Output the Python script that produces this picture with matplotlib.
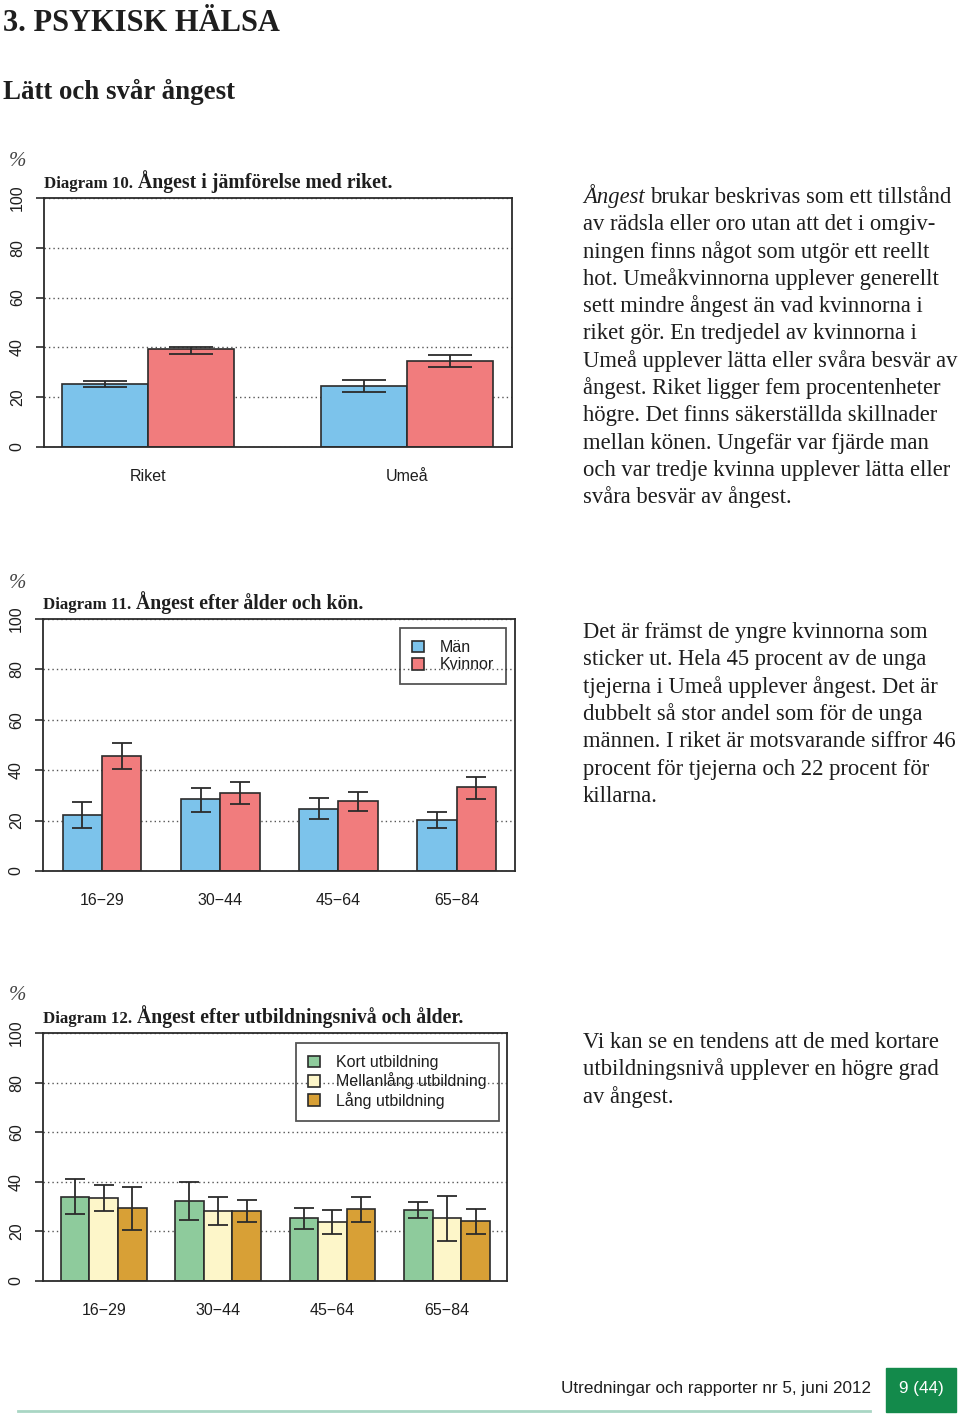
import matplotlib
matplotlib.use("Agg")
import matplotlib.pyplot as plt
import numpy as np

# --- data ---
d10_places = ["Riket", "Umeå"]
d10_men = [25.2, 24.3]
d10_men_lo = [24.0, 21.9]
d10_men_hi = [26.6, 26.9]
d10_women = [39.2, 34.6]
d10_women_lo = [37.3, 32.2]
d10_women_hi = [40.0, 36.9]

ages = ["16\u221229", "30\u221244", "45\u221264", "65\u221284"]
sexes = ["Män", "Kvinnor"]
d11_men = [22.2, 28.4, 24.8, 20.3]
d11_men_lo = [17.1, 23.4, 20.8, 17.0]
d11_men_hi = [27.5, 33.0, 28.8, 23.6]
d11_women = [45.6, 30.8, 27.6, 33.2]
d11_women_lo = [40.3, 26.4, 23.9, 28.7]
d11_women_hi = [50.8, 35.2, 31.2, 37.4]

edu_levels = ["Kort utbildning", "Mellanlång utbildning", "Lång utbildning"]
d12_kort = [34.0, 32.3, 25.3, 28.5]
d12_kort_lo = [27.0, 24.6, 21.0, 25.3]
d12_kort_hi = [41.0, 40.0, 29.5, 31.8]
d12_mellan = [33.4, 28.4, 23.7, 25.3]
d12_mellan_lo = [28.4, 22.6, 18.8, 16.1]
d12_mellan_hi = [38.6, 34.0, 28.7, 34.3]
d12_lang = [29.3, 28.4, 28.9, 24.2]
d12_lang_lo = [20.6, 23.9, 23.9, 19.0]
d12_lang_hi = [38.1, 32.7, 34.0, 29.2]

para1 = [
    "av rädsla eller oro utan att det i omgiv-",
    "ningen finns något som utgör ett reellt",
    "hot. Umeåkvinnorna upplever generellt",
    "sett mindre ångest än vad kvinnorna i",
    "riket gör. En tredjedel av kvinnorna i",
    "Umeå upplever lätta eller svåra besvär av",
    "ångest. Riket ligger fem procentenheter",
    "högre. Det finns säkerställda skillnader",
    "mellan könen. Ungefär var fjärde man",
    "och var tredje kvinna upplever lätta eller",
    "svåra besvär av ångest.",
]
para2 = [
    "Det är främst de yngre kvinnorna som",
    "sticker ut. Hela 45 procent av de unga",
    "tjejerna i Umeå upplever ångest. Det är",
    "dubbelt så stor andel som för de unga",
    "männen. I riket är motsvarande siffror 46",
    "procent för tjejerna och 22 procent för",
    "killarna.",
]
para3 = [
    "Vi kan se en tendens att de med kortare",
    "utbildningsnivå upplever en högre grad",
    "av ångest.",
]

BLUE = "#7cc3eb"
RED = "#f17c7d"
GREEN = "#8ecb9c"
YELLOW = "#fdf6c9"
ORANGE = "#d8a036"
EDGE = "#2b2b2b"
INK = "#1e1e1e"
SERIF = "Liberation Serif"
SANS = "Liberation Sans"

W, H = 960, 1415
fig = plt.figure(figsize=(W / 100, H / 100), dpi=100)
renderer = fig.canvas.get_renderer()


def fx(x):
    return x / W


def fy(y):
    return 1 - y / H


def add_ax(left, top, right, bottom):
    return fig.add_axes([fx(left), fy(bottom), (right - left) / W, (bottom - top) / H])


def bar_chart(ax, labels, series, colors, names, step, capsize, xlim):
    n = len(series)
    centers = np.arange(len(labels)) * step
    for i, (vals, lo, hi) in enumerate(series):
        vals = np.array(vals)
        x = centers + (i - (n - 1) / 2)
        ax.bar(x, vals, width=1.0, color=colors[i], edgecolor=EDGE,
               linewidth=1.2, label=names[i], zorder=2)
        ax.errorbar(x, vals, yerr=[vals - np.array(lo), np.array(hi) - vals],
                    fmt="none", ecolor=EDGE, elinewidth=1.3, capsize=capsize,
                    capthick=1.3, zorder=3)
    ax.set_xlim(*xlim)
    ax.set_ylim(0, 100)
    ax.set_yticks(range(0, 101, 20))
    ax.set_xticks(centers)
    ax.set_xticklabels(labels, fontfamily=SANS, fontsize=11.5, color=INK)
    ax.tick_params(axis="x", length=0, pad=16)
    ax.tick_params(axis="y", length=5.8, width=1.2, color=EDGE, pad=8,
                   labelsize=11.5, labelcolor=INK)
    for lab in ax.get_yticklabels():
        lab.set_rotation(90)
        lab.set_va("center")
        lab.set_fontfamily(SANS)
    for s in ax.spines.values():
        s.set_color(EDGE)
        s.set_linewidth(1.3)
    ax.grid(axis="y", linestyle=(0, (1, 2.2)), color="#555555", linewidth=1.0)
    ax.set_axisbelow(True)


def run_on(x, y, first, rest, first_kw, rest_kw, gap):
    # two pieces of text on one baseline, the second right after the first
    t = fig.text(fx(x), fy(y), first, va="baseline", color=INK, **first_kw)
    bb = t.get_window_extent(renderer)
    fig.text(fx(bb.x1 + gap), fy(y), rest, va="baseline", color=INK, **rest_kw)


def chart_title(x, y, num, rest):
    run_on(x, y, num, rest,
           dict(fontfamily=SERIF, fontweight="bold", fontsize=12.2),
           dict(fontfamily=SERIF, fontweight="bold", fontsize=14.2), 5)


def percent(y):
    fig.text(fx(17), fy(y), "%", fontfamily=SERIF, style="italic",
             fontsize=15, color="#444444", ha="center", va="center")


def legend(ax, x_right, y_top):
    leg = ax.legend(loc="upper right", bbox_to_anchor=(x_right, y_top),
                    prop={"family": SANS, "size": 11.5}, frameon=True,
                    fancybox=False, edgecolor=EDGE,
                    handlelength=0.75, handleheight=0.75, handletextpad=1.0,
                    labelspacing=0.15, borderpad=0.75, borderaxespad=0)
    leg.get_frame().set_facecolor("none")
    leg.get_frame().set_linewidth(1.3)
    for txt in leg.get_texts():
        txt.set_color(INK)


# page headings
fig.text(fx(3), fy(31), "3. PSYKISK HÄLSA", fontfamily=SERIF, fontweight="bold",
         fontsize=22, color=INK, va="baseline")
fig.text(fx(3), fy(99), "Lätt och svår ångest", fontfamily=SERIF,
         fontweight="bold", fontsize=19.4, color=INK, va="baseline")

# Diagram 10
ax1 = add_ax(44, 198, 512, 447)
bar_chart(ax1, d10_places,
          [(d10_men, d10_men_lo, d10_men_hi), (d10_women, d10_women_lo, d10_women_hi)],
          [BLUE, RED], sexes, 3, 16, (-1.21, 4.22))
percent(162)
chart_title(44, 188, "Diagram 10.", "Ångest i jämförelse med riket.")

# Diagram 11
ax2 = add_ax(43, 619, 515, 871)
bar_chart(ax2, ages,
          [(d11_men, d11_men_lo, d11_men_hi), (d11_women, d11_women_lo, d11_women_hi)],
          [BLUE, RED], sexes, 3, 7.5, (-1.5, 10.48))
legend(ax2, (506 - 43) / 472, 1 - (628 - 619) / 252)
percent(584)
chart_title(43, 609, "Diagram 11.", "Ångest efter ålder och kön.")

# Diagram 12
ax3 = add_ax(43, 1033, 507, 1281)
bar_chart(ax3, ages,
          [(d12_kort, d12_kort_lo, d12_kort_hi),
           (d12_mellan, d12_mellan_lo, d12_mellan_hi),
           (d12_lang, d12_lang_lo, d12_lang_hi)],
          [GREEN, YELLOW, ORANGE], edu_levels, 4, 7.2, (-2.12, 14.1))
legend(ax3, (499 - 43) / 464, 1 - (1043 - 1033) / 248)
percent(995)
chart_title(43, 1023, "Diagram 12.", "Ångest efter utbildningsnivå och ålder.")

# body text
LS = 27.3
BODY = dict(fontfamily=SERIF, fontsize=16.3)
run_on(583, 203, "Ångest", "brukar beskrivas som ett tillstånd",
       dict(BODY, style="italic"), BODY, 5.5)
for i, line in enumerate(para1):
    fig.text(fx(583), fy(203 + LS * (i + 1)), line, color=INK, va="baseline", **BODY)
for i, line in enumerate(para2):
    fig.text(fx(583), fy(638 + LS * i), line, color=INK, va="baseline", **BODY)
for i, line in enumerate(para3):
    fig.text(fx(583), fy(1048 + LS * i), line, color=INK, va="baseline", **BODY)

# footer
fig.text(fx(871), fy(1388), "Utredningar och rapporter nr 5, juni 2012",
         fontfamily=SANS, fontsize=12.3, color=INK, ha="right", va="center")
fig.patches.append(plt.Rectangle((fx(886), fy(1412)), 70 / W, 44 / H,
                                 transform=fig.transFigure, color="#138a4b"))
fig.text(fx(921), fy(1388), "9 (44)", fontfamily=SANS, fontsize=12.3,
         color="white", ha="center", va="center")
fig.lines.append(plt.Line2D([fx(18), fx(870)], [fy(1411), fy(1411)],
                            transform=fig.transFigure, color="#a9d6c4",
                            linewidth=2))

fig.savefig("out.png", dpi=100, facecolor="white")
